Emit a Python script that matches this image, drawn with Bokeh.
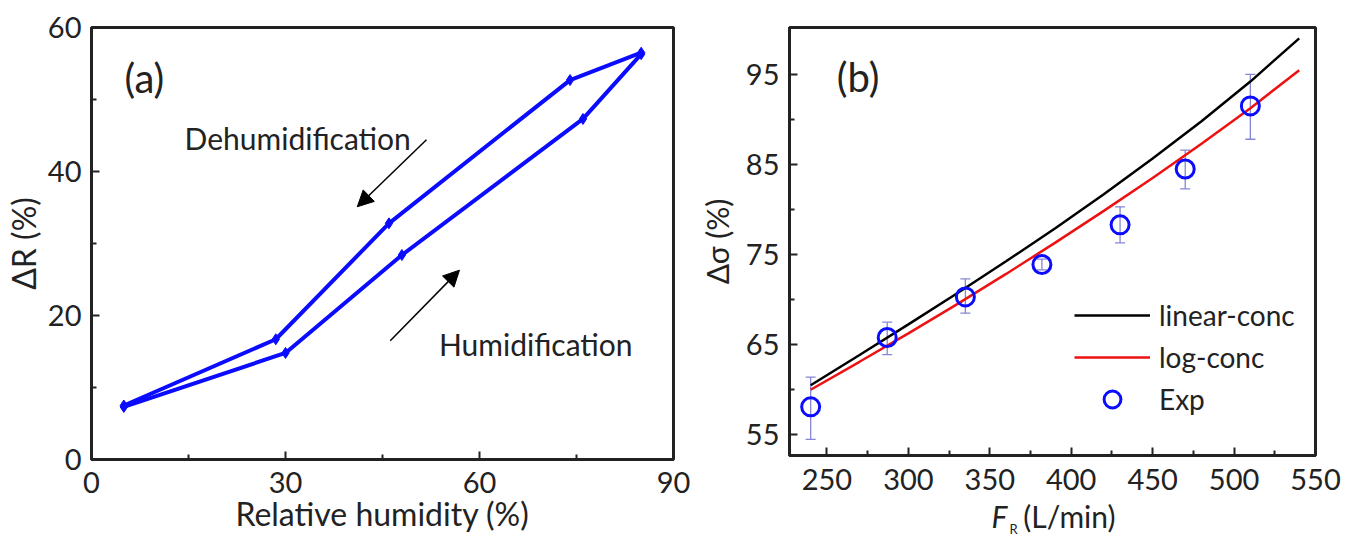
from bokeh.plotting import figure
from bokeh.layouts import row, column
from bokeh.models import (ColumnDataSource, FixedTicker, Arrow, NormalHead, Whisker,
                          TeeHead, Legend, LegendItem, Range1d)
from bokeh.core.properties import value
from bokeh.embed import file_html
from bokeh.resources import INLINE

FONT = "Lato"
BLUE = "#0b0bff"
INK = "#222222"

# ---------------- Panel (a) data ----------------
hum_rh = [5, 30, 48, 76, 85]
hum_dr = [7.3, 14.8, 28.4, 47.3, 56.3]
dehum_rh = [85, 74, 46, 28.5, 5]
dehum_dr = [56.5, 52.7, 32.8, 16.7, 7.5]
a_xticks = [0, 30, 60, 90]
a_yticks = [0, 20, 40, 60]

# ---------------- Panel (b) data ----------------
fr_model = [240, 270, 300, 330, 360, 390, 420, 450, 480, 510, 540]
linear_conc = [60.5, 63.85, 67.25, 70.7, 74.25, 77.9, 81.7, 85.65, 89.8, 94.2, 99.0]
log_conc = [60.0, 63.1, 66.25, 69.5, 72.85, 76.3, 79.85, 83.5, 87.3, 91.25, 95.45]
fr_exp = [240, 287, 335, 382, 430, 470, 510]
exp_sigma = [58.1, 65.8, 70.3, 73.9, 78.3, 84.5, 91.5]
exp_err_lo = [54.5, 63.9, 68.5, 73.3, 76.3, 82.3, 87.8]
exp_err_hi = [61.4, 67.5, 72.3, 74.5, 80.3, 86.6, 95.0]
b_xticks = [250, 300, 350, 400, 450, 500, 550]
b_yticks = [55, 65, 75, 85, 95]


def style(p, xticks, yticks, xstand, ystand):
    p.grid.visible = False
    p.outline_line_color = INK
    p.outline_line_width = 3
    for ax in (p.xaxis[0], p.yaxis[0]):
        ax.axis_line_width = 3
        ax.axis_line_color = INK
        ax.major_tick_in = 8
        ax.major_tick_out = 0
        ax.minor_tick_in = 5
        ax.minor_tick_out = 0
        ax.major_tick_line_width = 2
        ax.minor_tick_line_width = 2
        ax.major_tick_line_color = INK
        ax.minor_tick_line_color = INK
        ax.major_label_text_font = FONT
        ax.major_label_text_font_size = "29px"
        ax.major_label_text_color = INK
        ax.axis_label_text_font = FONT
        ax.axis_label_text_font_size = "32px"
        ax.axis_label_text_font_style = "normal"
        ax.axis_label_text_color = INK
    p.xaxis[0].ticker = FixedTicker(ticks=xticks, minor_ticks=[
        (xticks[i] + xticks[i + 1]) / 2 for i in range(len(xticks) - 1)])
    p.yaxis[0].ticker = FixedTicker(ticks=yticks, minor_ticks=[
        (yticks[i] + yticks[i + 1]) / 2 for i in range(len(yticks) - 1)])
    p.xaxis[0].major_label_standoff = xstand
    p.yaxis[0].major_label_standoff = ystand


# ---------------- Figure (a) ----------------
pa = figure(width=695, height=539, x_range=Range1d(0, 90), y_range=Range1d(0, 60),
            output_backend="svg", toolbar_location=None,
            min_border_left=88, min_border_right=22, min_border_top=27, min_border_bottom=80)
style(pa, a_xticks, a_yticks, 12, 10)
pa.xaxis[0].axis_label = "Relative humidity (%)"
pa.xaxis[0].axis_label_standoff = -2
pa.yaxis[0].axis_label = "ΔR (%)"
pa.yaxis[0].axis_label_standoff = 2

src_h = ColumnDataSource(dict(x=hum_rh, y=hum_dr))
src_d = ColumnDataSource(dict(x=dehum_rh, y=dehum_dr))
for s in (src_h, src_d):
    pa.line("x", "y", source=s, line_color=BLUE, line_width=4)
    pa.scatter("x", "y", source=s, marker="diamond", size=11, fill_color=BLUE,
               line_color=BLUE)

pa.text(x=[5.1], y=[53.0], text=["(a)"], text_font=value(FONT), text_font_size="40px",
        text_baseline="middle", text_align="left", text_color=INK)
pa.text(x=[14.4], y=[44.7], text=["Dehumidification"], text_font=value(FONT),
        text_font_size="30px", text_baseline="middle", text_align="left", text_color=INK)
pa.text(x=[68.7], y=[16.0], text=["Humidification"], text_font=value(FONT),
        text_font_size="30px", text_baseline="middle", text_align="center", text_color=INK)
pa.add_layout(Arrow(end=NormalHead(size=16, fill_color="black", line_color="black"),
                    x_start=51.8, y_start=44.4, x_end=41.1, y_end=35.1,
                    line_width=1.5, line_color="black"))
pa.add_layout(Arrow(end=NormalHead(size=16, fill_color="black", line_color="black"),
                    x_start=46.2, y_start=16.5, x_end=56.9, y_end=26.3,
                    line_width=1.5, line_color="black"))

# ---------------- Figure (b) ----------------
pb = figure(width=662, height=497, x_range=Range1d(227, 550), y_range=Range1d(52.7, 100.2),
            output_backend="svg", toolbar_location=None,
            min_border_left=89, min_border_right=42, min_border_top=27, min_border_bottom=42)
style(pb, b_xticks, b_yticks, 13, 10)
pb.yaxis[0].axis_label = "Δσ (%)"
pb.yaxis[0].axis_label_standoff = 8
pb.yaxis[0].axis_label_text_font_size = "30px"

src_m = ColumnDataSource(dict(x=fr_model, lin=linear_conc, log=log_conc))
src_e = ColumnDataSource(dict(x=fr_exp, y=exp_sigma, lo=exp_err_lo, hi=exp_err_hi))

ERR = "#8585d6"
pb.add_layout(Whisker(source=src_e, base="x", lower="lo", upper="hi", line_color=ERR,
                      line_width=1.3,
                      lower_head=TeeHead(size=10, line_color=ERR, line_width=1.3),
                      upper_head=TeeHead(size=10, line_color=ERR, line_width=1.3)))
r_lin = pb.line("x", "lin", source=src_m, line_color="black", line_width=2.5)
r_log = pb.line("x", "log", source=src_m, line_color="#ee1111", line_width=2.5)
r_exp = pb.scatter("x", "y", source=src_e, marker="circle", size=18, fill_color=None,
                   line_color=BLUE, line_width=3)

pb.text(x=[256], y=[94.7], text=["(b)"], text_font=value(FONT), text_font_size="40px",
        text_baseline="middle", text_align="left", text_color=INK)

legend = Legend(items=[LegendItem(label="linear-conc", renderers=[r_lin]),
                       LegendItem(label="log-conc", renderers=[r_log]),
                       LegendItem(label="Exp", renderers=[r_exp])],
                location=(285, 35), padding=0, spacing=0, glyph_width=76, glyph_height=42,
                label_height=42, label_standoff=9, label_text_font=FONT,
                label_text_font_size="28px", label_text_color=INK,
                border_line_alpha=0, background_fill_alpha=0)
pb.add_layout(legend)

# ---------------- x-axis title of (b): italic F with subscript R ----------------
# (its frame is aligned with the frame of (b); x is in pixels from that frame's left edge)
pl = figure(width=662, height=42, x_range=Range1d(0, 531), y_range=Range1d(0, 42),
            output_backend="svg", toolbar_location=None,
            x_axis_location=None, y_axis_location=None,
            min_border_left=89, min_border_right=42, min_border_top=0, min_border_bottom=0)
pl.grid.visible = False
pl.outline_line_color = None
pl.text(x=[204], y=[24], text=["F"], text_font=value(FONT), text_font_size="30px",
        text_font_style="italic", text_baseline="middle", text_align="left", text_color=INK)
pl.text(x=[222], y=[11], text=["R"], text_font=value(FONT), text_font_size="13px",
        text_baseline="middle", text_align="left", text_color=INK)
pl.text(x=[236], y=[24], text=["(L/min)"], text_font=value(FONT), text_font_size="30px",
        text_baseline="middle", text_align="left", text_color=INK)

layout = row(pa, column(pb, pl))
open("out.html", "w").write(file_html(layout, INLINE))
